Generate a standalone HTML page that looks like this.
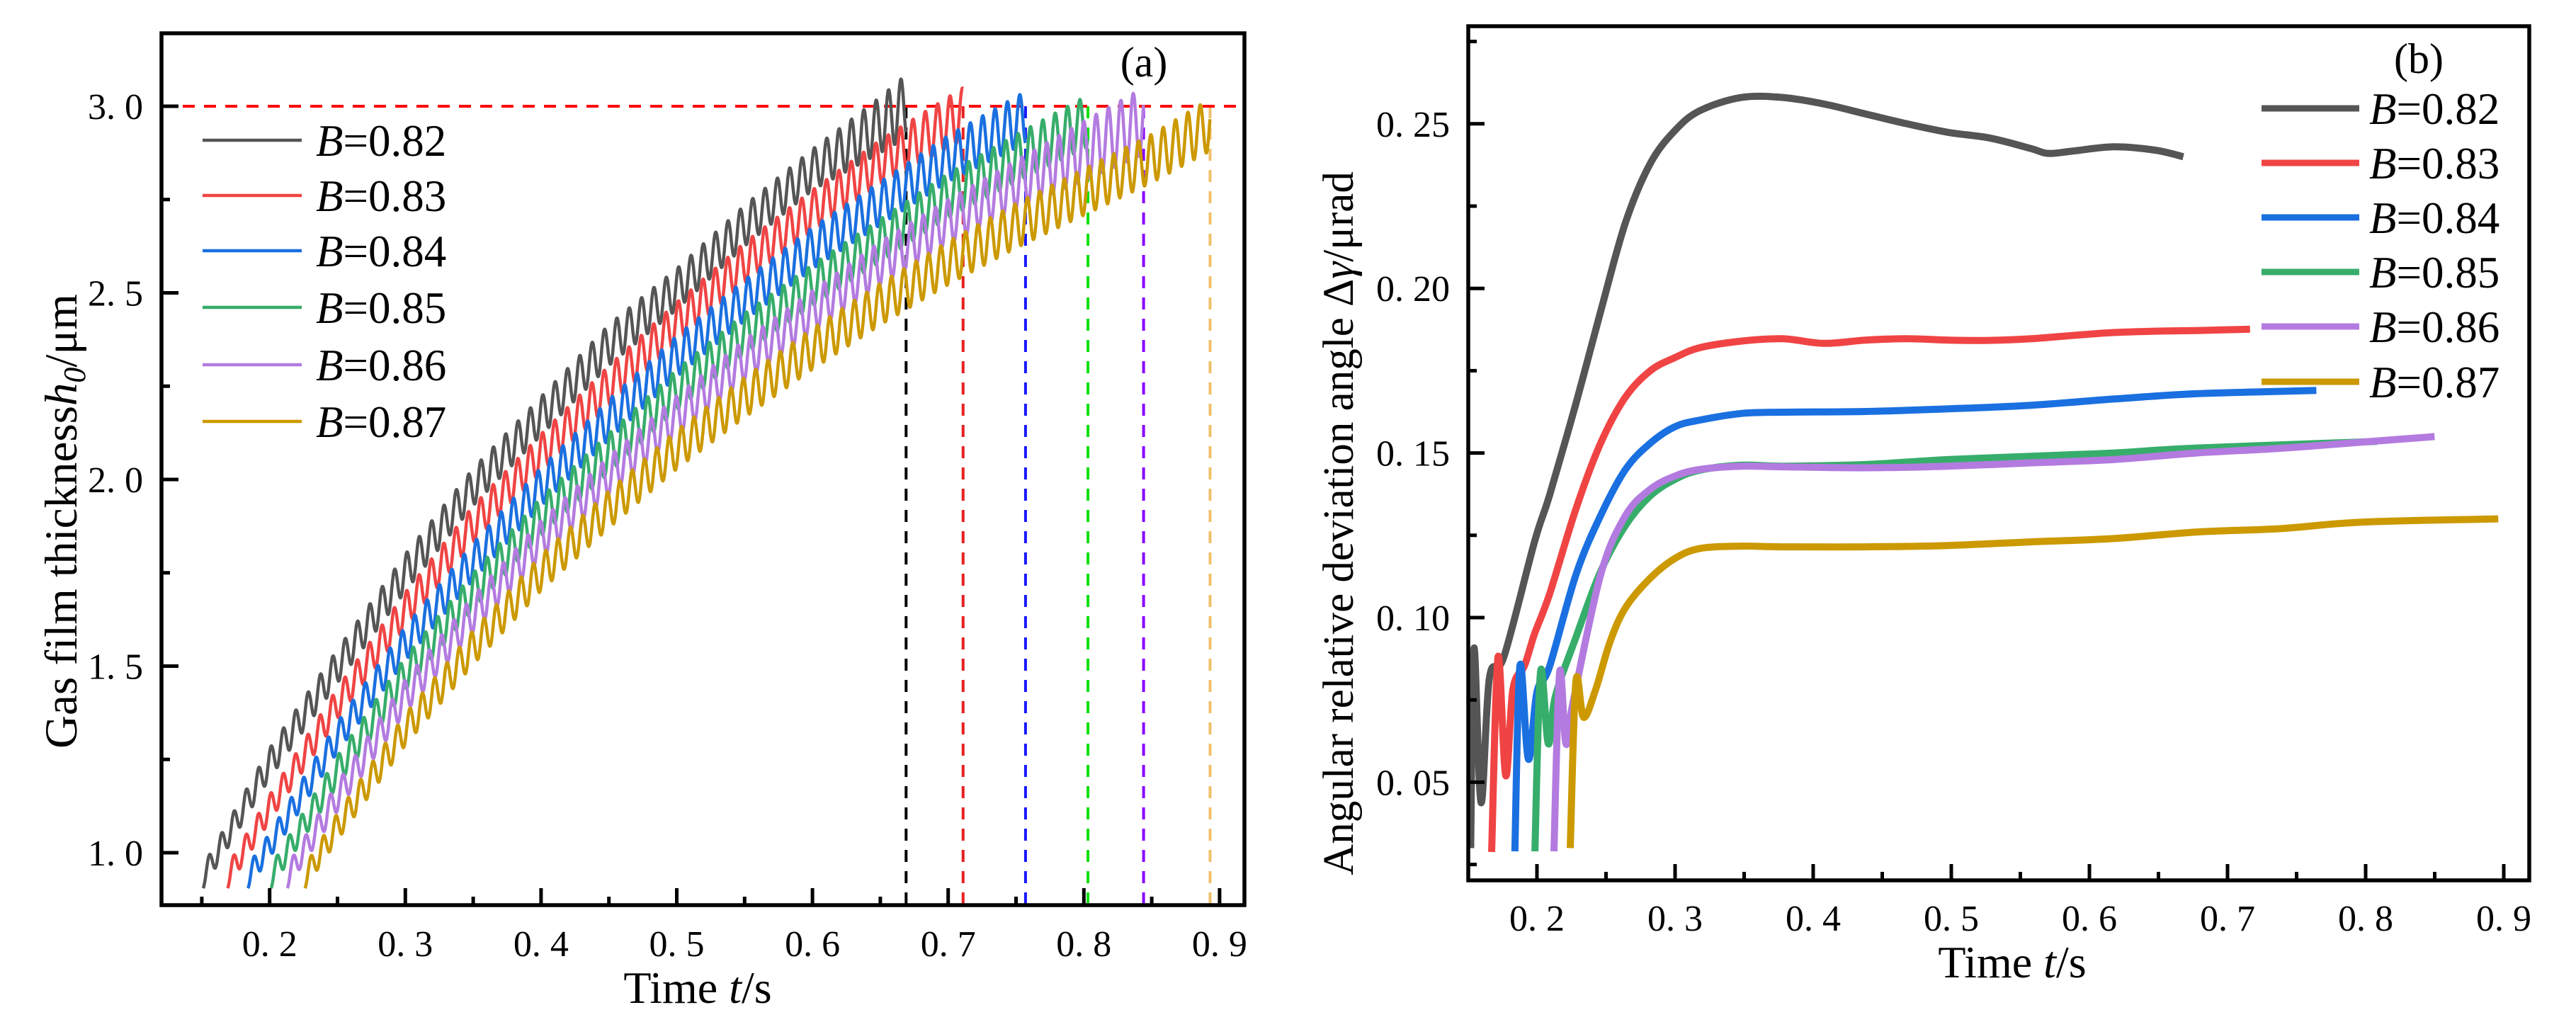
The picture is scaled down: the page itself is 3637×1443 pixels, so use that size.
<!DOCTYPE html>
<html><head><meta charset="utf-8"><style>
html,body{margin:0;padding:0;background:#fff;}
svg{display:block;font-family:"Liberation Serif",serif;}
</style></head><body>
<svg id="fig" width="3637" height="1443" viewBox="0 0 3637 1443" xmlns="http://www.w3.org/2000/svg">
<g id="pa"></g>
<g id="pb"></g>
</svg>
<script>
// ---------- Panel (a) data ----------
const labelsB = ["0.82","0.83","0.84","0.85","0.86","0.87"];
const colorsA = ["#555555","#f04444","#1a70e0","#37ad6b","#b37be0","#cc9900"];
const dashColorsA = ["#000000","#e82020","#1818ff","#10e010","#8800ff","#f0c068"];
const aTimes0 = [.151,.2,.25,.3,.35,.4,.45,.5,.55,.6,.65,.669];
const aMeans0 = [.935,1.24,1.5,1.75,1.98,2.17,2.36,2.51,2.68,2.83,2.95,3.0];
const aAmps0  = [.03,.04,.045,.05,.05,.052,.055,.055,.055,.055,.075,.085];
const aTimes1 = [.169,.2,.25,.3,.35,.4,.45,.5,.55,.6,.65,.711];
const aMeans1 = [.935,1.12,1.4,1.65,1.88,2.07,2.25,2.42,2.58,2.72,2.85,2.98];
const aAmps1  = [.03,.035,.042,.048,.05,.052,.055,.055,.055,.056,.06,.07];
const aTimes2 = [.184,.2,.25,.3,.35,.4,.45,.5,.55,.6,.65,.7,.757];
const aMeans2 = [.935,1.02,1.31,1.56,1.78,1.98,2.16,2.33,2.48,2.62,2.74,2.86,2.97];
const aAmps2  = [.03,.033,.04,.046,.05,.052,.054,.055,.055,.056,.058,.062,.07];
const aTimes3 = [.201,.25,.3,.35,.4,.45,.5,.55,.6,.65,.7,.75,.803];
const aMeans3 = [.935,1.22,1.48,1.7,1.9,2.07,2.24,2.39,2.52,2.64,2.76,2.86,2.96];
const aAmps3  = [.03,.04,.045,.05,.052,.054,.055,.055,.056,.058,.06,.064,.07];
const aTimes4 = [.213,.25,.3,.35,.4,.45,.5,.55,.6,.65,.7,.75,.8,.844];
const aMeans4 = [.935,1.15,1.42,1.64,1.84,2.01,2.17,2.32,2.45,2.58,2.69,2.79,2.88,2.96];
const aAmps4  = [.03,.038,.044,.048,.05,.052,.054,.055,.056,.058,.06,.065,.08,.09];
const aTimes5 = [.226,.25,.3,.35,.4,.45,.5,.55,.6,.65,.7,.75,.8,.85,.893];
const aMeans5 = [.935,1.07,1.33,1.55,1.75,1.92,2.08,2.22,2.35,2.47,2.58,2.68,2.77,2.86,2.95];
const aAmps5  = [.03,.036,.042,.046,.048,.05,.052,.054,.055,.056,.058,.06,.062,.065,.07];
const aEndTimes = [.669,.711,.757,.803,.844,.893];
const aPeriod = 0.0091;
const aRefLine = 3.0;
const aXTicks = [0.2,0.3,0.4,0.5,0.6,0.7,0.8,0.9];
const aXTickLabels = ["0. 2","0. 3","0. 4","0. 5","0. 6","0. 7","0. 8","0. 9"];
const aYTicks = [1.0,1.5,2.0,2.5,3.0];
const aYTickLabels = ["1. 0","1. 5","2. 0","2. 5","3. 0"];

// ---------- Panel (b) data ----------
const colorsB = ["#555555","#f04444","#1a70e0","#37ad6b","#b37be0","#cc9900"];
const bT0 = [.152,.1544,.1595,.1656,.176,.1982,.209,.2282,.2461,.2641,.2821,.30,.318,.348,.3779,.4079,.4378,.4678,.4977,.5277,.5576,.570,.5876,.6175,.6475,.668];
const bV0 = [.03,.0907,.0438,.0817,.088,.123,.137,.165,.193,.22,.238,.248,.254,.258,.258,.256,.253,.25,.2474,.2457,.2425,.241,.2417,.243,.242,.240];
const bT1 = [.1672,.1718,.1774,.1826,.191,.1982,.209,.2282,.2461,.2641,.2821,.30,.318,.348,.3779,.4079,.4378,.4678,.4977,.5277,.5576,.5876,.6175,.6475,.6774,.7163];
const bV1 = [.0288,.088,.052,.0783,.0854,.095,.107,.133,.153,.167,.175,.179,.182,.184,.1847,.1833,.1843,.1847,.1843,.1842,.1847,.1857,.1866,.187,.1872,.1876];
const bT2 = [.184,.1877,.1938,.200,.209,.2282,.2461,.2641,.2821,.30,.318,.348,.3779,.4378,.4977,.5576,.6175,.6774,.7643];
const bV2 = [.029,.0854,.057,.0774,.085,.113,.131,.145,.153,.158,.160,.162,.1624,.1626,.1634,.1645,.1664,.168,.169];
const bT3 = [.1985,.2026,.2082,.2133,.2282,.2461,.2641,.2821,.30,.318,.348,.3779,.4378,.4977,.5576,.6175,.6774,.808];
const bV3 = [.029,.0836,.0617,.076,.094,.114,.128,.137,.142,.1448,.1463,.146,.1465,.148,.149,.150,.1515,.1535];
const bT4 = [.2123,.2164,.221,.226,.2461,.2641,.2821,.30,.318,.348,.3779,.4378,.4977,.5576,.6175,.6774,.7373,.7972,.8499];
const bV4 = [.029,.0833,.0617,.074,.113,.131,.139,.143,.145,.146,.1458,.1455,.146,.147,.148,.150,.1514,.1533,.155];
const bT5 = [.2241,.2282,.2338,.2426,.2528,.2641,.2821,.30,.318,.348,.3779,.4378,.4977,.5576,.6175,.6774,.7373,.7972,.896];
const bV5 = [.030,.0806,.0697,.0783,.0925,.103,.112,.118,.121,.1217,.1215,.1215,.1219,.123,.124,.126,.127,.129,.130];
const bXTicks = [0.2,0.3,0.4,0.5,0.6,0.7,0.8,0.9];
const bXTickLabels = ["0. 2","0. 3","0. 4","0. 5","0. 6","0. 7","0. 8","0. 9"];
const bYTicks = [0.05,0.10,0.15,0.20,0.25];
const bYTickLabels = ["0. 05","0. 10","0. 15","0. 20","0. 25"];

const NS = "http://www.w3.org/2000/svg";
function mk(tag, attrs, parent){const e=document.createElementNS(NS,tag);for(const k in attrs)e.setAttribute(k,attrs[k]);parent.appendChild(e);return e;}
function interp(xs,ys,x){if(x<=xs[0])return ys[0];for(let i=1;i<xs.length;i++){if(x<=xs[i]){const f=(x-xs[i-1])/(xs[i]-xs[i-1]);return ys[i-1]+f*(ys[i]-ys[i-1]);}}return ys[ys.length-1];}

// ---------- Panel (a) ----------
(function(){
const g=document.getElementById('pa');
const L=228,R=1757,T=47,B=1278;
const X=t=>380.7+(t-0.2)*1916, Y=h=>1204-(h-1)*527;
const times=[aTimes0,aTimes1,aTimes2,aTimes3,aTimes4,aTimes5];
const means=[aMeans0,aMeans1,aMeans2,aMeans3,aMeans4,aMeans5];
const amps=[aAmps0,aAmps1,aAmps2,aAmps3,aAmps4,aAmps5];
for(let i=0;i<6;i++){
  const dl=mk('line',{x1:X(aEndTimes[i]),x2:X(aEndTimes[i]),y1:Y(aRefLine),y2:B,stroke:dashColorsA[i],'stroke-width':4,'stroke-dasharray':'17,13'},g);
  
  
}
const ref=mk('line',{x1:L,x2:R,y1:Y(aRefLine),y2:Y(aRefLine),stroke:'#ff0000','stroke-width':4,'stroke-dasharray':'17,13'},g);


for(let i=0;i<6;i++){
  const ts=times[i],t0=ts[0],te=aEndTimes[i];
  let d='';
  for(let t=t0;t<=te+1e-9;t+=0.0003){
    const h=interp(ts,means[i],t)-interp(ts,amps[i],t)*Math.cos(2*Math.PI*(t-t0)/aPeriod);
    d+=(d?'L':'M')+X(t).toFixed(1)+','+Y(h).toFixed(1);
  }
  const p=mk('path',{d:d,fill:'none',stroke:colorsA[i],'stroke-width':4.5,'stroke-linejoin':'round'},g);
  
  
}
const fr=mk('rect',{x:L,y:T,width:R-L,height:B-T,fill:'none',stroke:'#000','stroke-width':5.5},g);


for(let i=0;i<aXTicks.length;i++){
  const x=X(aXTicks[i]);
  mk('line',{x1:x,x2:x,y1:B,y2:B-24,stroke:'#000','stroke-width':5},g);
  const tx=mk('text',{x:x,y:1350,'font-size':52,'text-anchor':'middle'},g);
  tx.textContent=aXTickLabels[i];
  
  
}
for(let t=0.15;t<0.9;t+=0.1){const x=X(t);mk('line',{x1:x,x2:x,y1:B,y2:B-12,stroke:'#000','stroke-width':5},g);}
for(let i=0;i<aYTicks.length;i++){
  const y=Y(aYTicks[i]);
  mk('line',{x1:L,x2:L+24,y1:y,y2:y,stroke:'#000','stroke-width':5},g);
  const tx=mk('text',{x:202,y:y+18,'font-size':52,'text-anchor':'end'},g);
  tx.textContent=aYTickLabels[i];
  
  
}
for(let h=1.25;h<3;h+=0.5){const y=Y(h);mk('line',{x1:L,x2:L+12,y1:y,y2:y,stroke:'#000','stroke-width':5},g);}
const legY=[198,276,354,434,515,595];
for(let i=0;i<6;i++){
  const ln=mk('line',{x1:286,x2:426,y1:legY[i],y2:legY[i],stroke:colorsA[i],'stroke-width':4.5},g);
  
  
  const tx=mk('text',{x:446,y:legY[i]+22,'font-size':63},g);
  tx.innerHTML='<tspan font-style="italic">B</tspan>='+labelsB[i];
  
  
}
const pl=mk('text',{x:1615,y:108,'font-size':60,'text-anchor':'middle'},g);
pl.textContent='(a)';


const xt=mk('text',{x:985,y:1416,'font-size':64,'text-anchor':'middle'},g);
xt.innerHTML='Time <tspan font-style="italic">t</tspan>/s';


const yt=mk('text',{x:0,y:0,'font-size':65,'text-anchor':'middle',transform:'translate(108,736) rotate(-90)'},g);
yt.innerHTML='Gas film thickness<tspan font-style="italic">h</tspan><tspan font-size="44" dy="12" font-style="italic">0</tspan><tspan dy="-12">/μm</tspan>';


})();

// ---------- Panel (b) ----------
(function(){
const g=document.getElementById('pb');
const L=2073,R=3571,T=37,B=1243;
const X=t=>2170+(t-0.2)*1950, Y=v=>872-(v-0.1)*4648;
const ts=[bT0,bT1,bT2,bT3,bT4,bT5], vs=[bV0,bV1,bV2,bV3,bV4,bV5];
function spline(pts){let d='M'+pts[0][0].toFixed(1)+','+pts[0][1].toFixed(1);
  for(let i=0;i<pts.length-1;i++){const p0=pts[Math.max(0,i-1)],p1=pts[i],p2=pts[i+1],p3=pts[Math.min(pts.length-1,i+2)];
    const c1x=p1[0]+(p2[0]-p0[0])/6,c1y=p1[1]+(p2[1]-p0[1])/6,c2x=p2[0]-(p3[0]-p1[0])/6,c2y=p2[1]-(p3[1]-p1[1])/6;
    d+='C'+c1x.toFixed(1)+','+c1y.toFixed(1)+' '+c2x.toFixed(1)+','+c2y.toFixed(1)+' '+p2[0].toFixed(1)+','+p2[1].toFixed(1);}
  return d;}
for(let i=0;i<6;i++){
  const pts=ts[i].map((t,k)=>[X(t),Y(vs[i][k])]);
  const p=mk('path',{d:spline(pts),fill:'none',stroke:colorsB[i],'stroke-width':10,'stroke-linejoin':'round'},g);
  
  
}
const fr=mk('rect',{x:L,y:T,width:R-L,height:B-T,fill:'none',stroke:'#000','stroke-width':5.5},g);


for(let i=0;i<bXTicks.length;i++){
  const x=X(bXTicks[i]);
  mk('line',{x1:x,x2:x,y1:B,y2:B-23,stroke:'#000','stroke-width':5},g);
  const tx=mk('text',{x:x,y:1314,'font-size':52,'text-anchor':'middle'},g);
  tx.textContent=bXTickLabels[i];
  
  
}
for(let t=0.25;t<0.9;t+=0.1){const x=X(t);mk('line',{x1:x,x2:x,y1:B,y2:B-12,stroke:'#000','stroke-width':5},g);}
for(let i=0;i<bYTicks.length;i++){
  const y=Y(bYTicks[i]);
  mk('line',{x1:L,x2:L+23,y1:y,y2:y,stroke:'#000','stroke-width':5},g);
  const tx=mk('text',{x:2047,y:y+18,'font-size':52,'text-anchor':'end'},g);
  tx.textContent=bYTickLabels[i];
  
  
}
for(let v=0.025;v<0.28;v+=0.05){const y=Y(v);mk('line',{x1:L,x2:L+12,y1:y,y2:y,stroke:'#000','stroke-width':5},g);}
const legY=[153,230,307,384,461,539];
for(let i=0;i<6;i++){
  const ln=mk('line',{x1:3193,x2:3331,y1:legY[i],y2:legY[i],stroke:colorsB[i],'stroke-width':9},g);
  
  
  const tx=mk('text',{x:3345,y:legY[i]+22,'font-size':63},g);
  tx.innerHTML='<tspan font-style="italic">B</tspan>='+labelsB[i];
  
  
}
const pl=mk('text',{x:3415,y:103,'font-size':60,'text-anchor':'middle'},g);
pl.textContent='(b)';


const xt=mk('text',{x:2841,y:1380,'font-size':64,'text-anchor':'middle'},g);
xt.innerHTML='Time <tspan font-style="italic">t</tspan>/s';


const yt=mk('text',{x:0,y:0,'font-size':61,'text-anchor':'middle',transform:'translate(1910,739) rotate(-90)'},g);
yt.innerHTML='Angular relative deviation angle Δ<tspan font-style="italic">γ</tspan>/μrad';


})();
</script>
</body></html>
